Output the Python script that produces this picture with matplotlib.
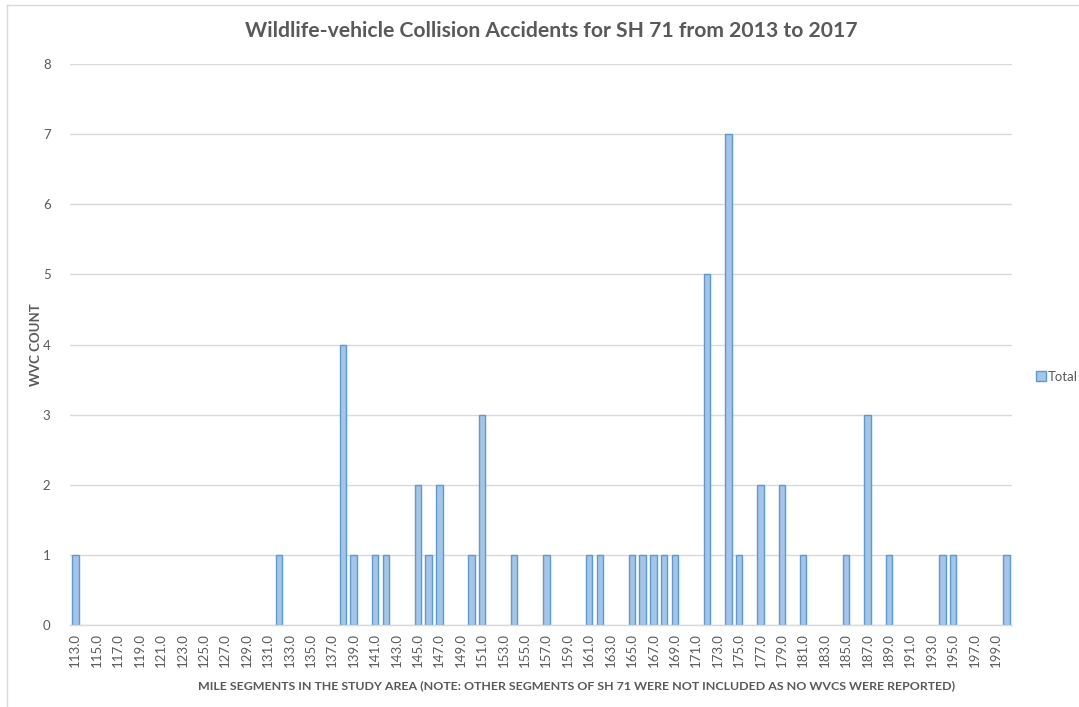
import numpy as np
import matplotlib.pyplot as plt
from matplotlib.lines import Line2D

# mile segments with reported WVCs (all others in 113-200 are zero)
hit_miles = [113, 132, 138, 139, 141, 142, 145, 146, 147, 150, 151, 154,
             157, 161, 162, 165, 166, 167, 168, 169, 172, 174, 175, 177,
             179, 181, 185, 187, 189, 194, 195, 200]
hit_counts = [1, 1, 4, 1, 1, 1, 2, 1, 2, 1, 3, 1,
              1, 1, 1, 1, 1, 1, 1, 1, 5, 7, 1, 2,
              2, 1, 1, 3, 1, 1, 1, 1]

segments = list(range(113, 201))
lookup = dict(zip(hit_miles, hit_counts))
counts = [lookup.get(m, 0) for m in segments]

grey = "#595959"
plt.rcParams["font.family"] = ["Lato", "DejaVu Sans"]

fig = plt.figure(figsize=(10.79, 7.07), dpi=100)
ax = fig.add_axes([70 / 1079, 82 / 707, 942 / 1079, 561 / 707])

x = np.arange(len(segments))
# no outline on empty segments, so they don't show as a stripe on the axis
widths = [1.0 if c > 0 else 0.0 for c in counts]
ax.bar(x, counts, width=0.6, color="#a4c5e8", edgecolor="#5b9bd5",
       linewidth=widths, zorder=3)

ax.set_xlim(-0.5, len(segments) - 0.5)
ax.set_ylim(0, 8)
ax.set_yticks(range(0, 9))
ax.yaxis.grid(True, color="#d9d9d9", linewidth=1.0, zorder=0)

ax.set_xticks(x[::2])
ax.set_xticklabels([f"{m:.1f}" for m in segments[::2]], rotation=90)
ax.tick_params(axis="x", length=0, pad=6, labelsize=9.5, labelcolor=grey)
ax.tick_params(axis="y", length=0, pad=14, labelsize=9.5, labelcolor=grey)

for side in ["top", "right", "left"]:
    ax.spines[side].set_visible(False)
ax.spines["bottom"].set_color("#d9d9d9")
ax.spines["bottom"].set_linewidth(1.0)
ax.spines["bottom"].set_zorder(4)

fig.text(551 / 1079, 1 - 31 / 707,
         "Wildlife-vehicle Collision Accidents for SH 71 from 2013 to 2017",
         ha="center", va="center", fontsize=15.2, fontweight="bold", color=grey)
fig.text(36 / 1079, 1 - 345 / 707, "WVC COUNT", rotation=90,
         ha="center", va="center", fontsize=9.5, fontweight="bold", color=grey)
fig.text(577 / 1079, 1 - 686 / 707,
         "MILE SEGMENTS IN THE STUDY AREA (NOTE: OTHER SEGMENTS OF SH 71 "
         "WERE NOT INCLUDED AS NO WVCS WERE REPORTED)",
         ha="center", va="center", fontsize=8.9, fontweight="bold", color=grey)

handle = Line2D([], [], marker="s", linestyle="none", markersize=7,
                markerfacecolor="#a4c5e8", markeredgecolor="#5b9bd5")
fig.legend([handle], ["Total"], loc="center left",
           bbox_to_anchor=(1024 / 1079, 1 - 377 / 707), frameon=False,
           fontsize=9.5, labelcolor=grey, handletextpad=0.1,
           handlelength=0.8)

# chart border (left and top edges visible in the screenshot)
fig.add_artist(Line2D([7 / 1079, 7 / 1079], [0, 1 - 5 / 707],
                      transform=fig.transFigure, color="#d9d9d9", lw=1))
fig.add_artist(Line2D([7 / 1079, 1], [1 - 5 / 707, 1 - 5 / 707],
                      transform=fig.transFigure, color="#d9d9d9", lw=1))

fig.savefig("out.png", dpi=100)
